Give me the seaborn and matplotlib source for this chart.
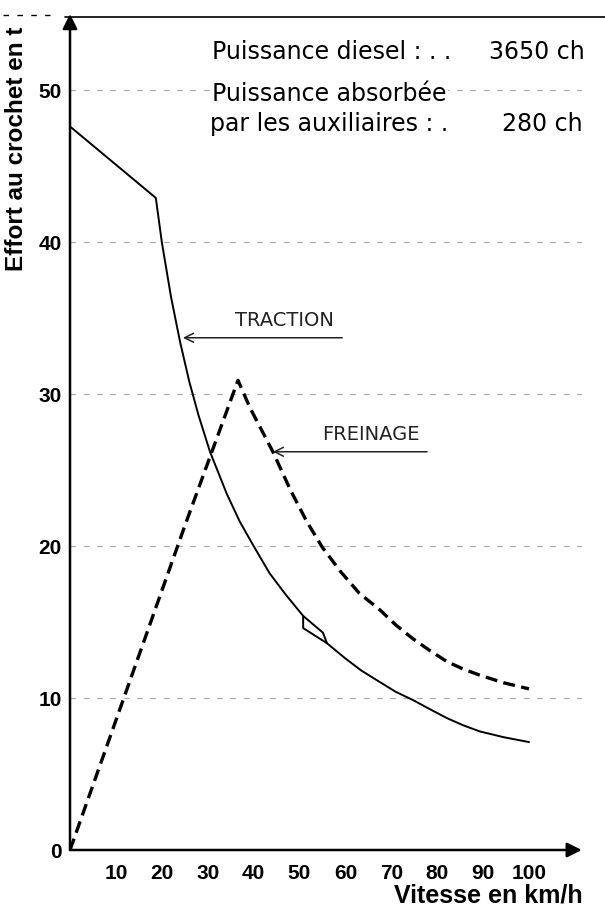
import numpy as np
import pandas as pd
import matplotlib
matplotlib.use("Agg")
import matplotlib.pyplot as plt
import seaborn as sns

# Courbes effort / vitesse
speed_traction = [0, 18.7, 20, 22, 24, 26, 28, 30.5, 34.2, 37, 40, 43.5, 47, 50.8, 50.8,
                  56, 60, 63.5, 67.5, 71, 74.7, 78.5, 82.1, 85.7, 89.3, 94.5, 100]
effort_traction = [47.6, 42.9, 40.0, 36.4, 33.4, 30.8, 28.6, 26.2, 23.4, 21.6, 20.0, 18.2,
                   16.8, 15.4, 14.6, 13.6, 12.6, 11.8, 11.05, 10.4, 9.87, 9.25, 8.68, 8.2,
                   7.8, 7.42, 7.1]

# petit losange sur la courbe de traction
speed_losange = [50.8, 55.1, 56]
effort_losange = [15.4, 14.3, 13.6]

speed_freinage = [0, 25.1, 36.6, 39.2, 44.2, 48, 51.6, 55, 59, 63, 67.5, 71, 74.7, 78.5,
                  82.1, 85.7, 89.3, 94.5, 100]
effort_freinage = [0, 21.4, 30.9, 29.1, 26.2, 23.7, 21.6, 19.9, 18.3, 16.9, 15.8, 14.8,
                   13.9, 13.1, 12.4, 11.9, 11.5, 11.0, 10.6]

x_ticks = [10, 20, 30, 40, 50, 60, 70, 80, 90, 100]
y_ticks = [0, 10, 20, 30, 40, 50]

sns.set_style("white")
plt.rcParams['font.family'] = ['Liberation Sans', 'DejaVu Sans']
plt.rcParams['text.color'] = 'black'
plt.rcParams['axes.labelcolor'] = 'black'
plt.rcParams['xtick.color'] = 'black'
plt.rcParams['ytick.color'] = 'black'

W, H = 605, 922
fig = plt.figure(figsize=(W / 100, H / 100), dpi=100)

# axes placed in pixels: origin (70, 850), 4.59 px per km/h, 15.2 px per t
x0, y0, sx, sy = 70, 850, 4.59, 15.2
xmax, ymax = 111.5, 55
ax = fig.add_axes([x0 / W, (H - y0) / H, xmax * sx / W, ymax * sy / H])
ax.set_xlim(0, xmax)
ax.set_ylim(0, ymax)


def fx(px):
    return px / W


def fy(py):
    return 1 - py / H


# faint grid lines
ax.set_yticks(y_ticks)
ax.set_xticks(x_ticks)
ax.grid(axis='y', color='#a8a8a8', lw=0.8, ls=(0, (5, 7)))
ax.grid(axis='x', visible=False)
for s in ax.spines.values():
    s.set_visible(False)
ax.tick_params(length=0)
ax.tick_params(axis='x', pad=10)
ax.tick_params(axis='y', pad=6)
for lab in ax.get_xticklabels() + ax.get_yticklabels():
    lab.set_fontsize(15)
    lab.set_fontweight('bold')

# axes with arrow heads
ax.annotate('', xy=(0, ymax), xytext=(0, 0), xycoords='data',
            arrowprops=dict(arrowstyle='-|>', color='black', lw=1.8,
                            mutation_scale=22, shrinkA=0, shrinkB=0),
            annotation_clip=False)
ax.annotate('', xy=(xmax, 0), xytext=(0, 0), xycoords='data',
            arrowprops=dict(arrowstyle='-|>', color='black', lw=1.8,
                            mutation_scale=22, shrinkA=0, shrinkB=0),
            annotation_clip=False)

# top rule
ax.axhline(54.8, xmin=-0.01, xmax=1.05, color='black', lw=1.2, clip_on=False)
ax.axhline(54.95, xmin=-0.13, xmax=-0.04, color='black', lw=1.0,
           ls=(0, (4, 6)), clip_on=False)

# curves
sns.lineplot(x=speed_traction, y=effort_traction, ax=ax, color='black', lw=1.4,
             sort=False, estimator=None)
sns.lineplot(x=speed_losange, y=effort_losange, ax=ax, color='black', lw=1.4,
             sort=False, estimator=None)
sns.lineplot(x=speed_freinage, y=effort_freinage, ax=ax, color='black', lw=2.4,
             sort=False, estimator=None, linestyle=(0, (3.6, 1.9)))

# annotations
ax.annotate('', xy=(24.6, 33.7), xytext=(59.3, 33.7),
            arrowprops=dict(arrowstyle='->', color='#222222', lw=1.1,
                            mutation_scale=16, shrinkA=0, shrinkB=0))
ax.text(46.8, 34.2, 'TRACTION', ha='center', va='bottom', fontsize=14,
        color='#222222', family='DejaVu Sans')
ax.annotate('', xy=(44.2, 26.2), xytext=(77.8, 26.2),
            arrowprops=dict(arrowstyle='->', color='#222222', lw=1.1,
                            mutation_scale=16, shrinkA=0, shrinkB=0))
ax.text(65.6, 26.7, 'FREINAGE', ha='center', va='bottom', fontsize=14,
        color='#222222', family='DejaVu Sans')

# header text
hdr = dict(fontsize=17, va='baseline', family='DejaVu Sans', color='black')
fig.text(fx(212), fy(59), 'Puissance diesel : . .', ha='left', **hdr)
fig.text(fx(585), fy(59), '3650 ch', ha='right', **hdr)
fig.text(fx(212), fy(101), 'Puissance absorbée', ha='left',
         bbox=dict(facecolor='white', edgecolor='none', pad=1), **hdr)
fig.text(fx(210), fy(131), 'par les auxiliaires : .', ha='left', **hdr)
fig.text(fx(583), fy(131), '280 ch', ha='right', **hdr)

# axis labels
ax.set_ylabel('Effort au crochet en t', fontsize=17.5, fontweight='bold')
ax.yaxis.set_label_coords((28 - x0) / (xmax * sx), (y0 - 149) / (ymax * sy))
ax.set_xlabel('Vitesse en km/h', fontsize=18, fontweight='bold')
ax.xaxis.set_label_coords((488 - x0) / (xmax * sx), (y0 - 883) / (ymax * sy))

fig.savefig('out.png', dpi=100)
